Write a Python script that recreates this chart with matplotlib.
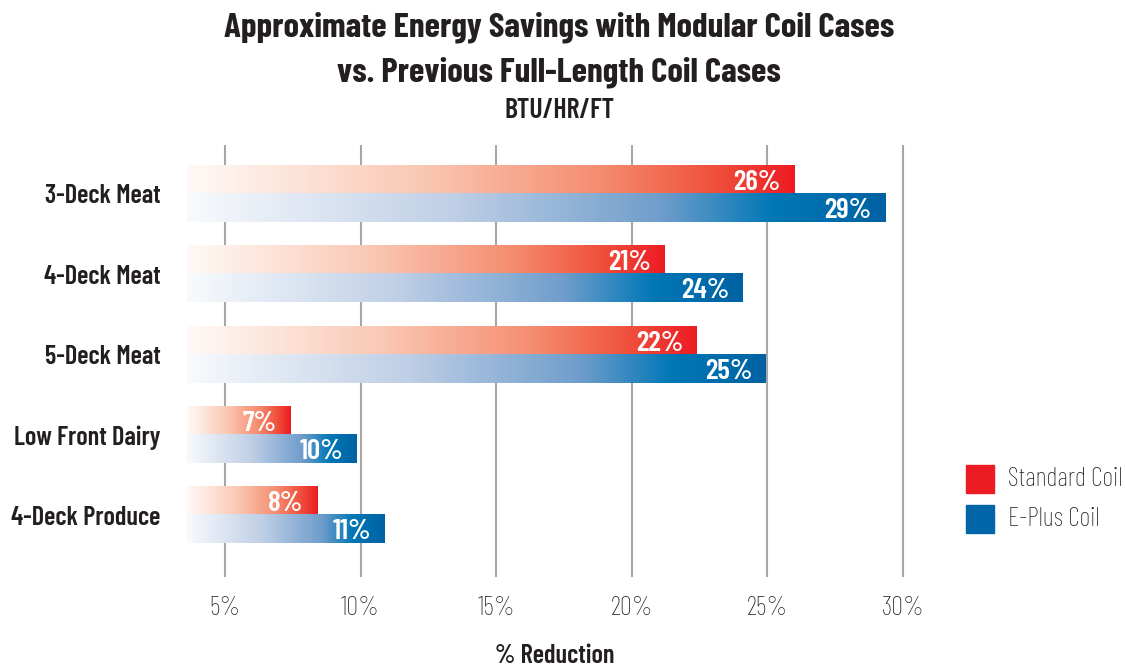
import matplotlib
matplotlib.use('Agg')
import matplotlib.pyplot as plt
import numpy as np
from matplotlib.colors import LinearSegmentedColormap
from matplotlib.patches import Rectangle

FONT = ['Barlow Condensed', 'DejaVu Sans']

# data
categories = ['3-Deck Meat', '4-Deck Meat', '5-Deck Meat', 'Low Front Dairy', '4-Deck Produce']
standard = [26.0, 21.2, 22.4, 7.4, 8.4]
eplus = [29.35, 24.1, 24.95, 9.85, 10.9]
standard_labels = ['26%', '21%', '22%', '7%', '8%']
eplus_labels = ['29%', '24%', '25%', '10%', '11%']
ticks = [5, 10, 15, 20, 25, 30]
tick_labels = ['5%', '10%', '15%', '20%', '25%', '30%']

RED = '#ED1C24'
BLUE = '#0066A8'
TEXT = '#231F20'
red_cmap = LinearSegmentedColormap.from_list('red', [
    (0.0, '#FFFAF7'), (0.38, '#FAC9B5'), (0.68, '#F58D70'),
    (0.86, '#F0533E'), (1.0, '#ED1C24')])
blue_cmap = LinearSegmentedColormap.from_list('blue', [
    (0.0, '#F8FAFD'), (0.38, '#BFCFE6'), (0.68, '#6F9DCB'),
    (0.84, '#0077B6'), (1.0, '#0062A2')])

XMIN, XMAX = 3.6, 30.3
H = 0.35

fig = plt.figure(figsize=(11.25, 6.66), dpi=100)
ax = fig.add_axes([187 / 1125, 1 - 577 / 666, (911 - 187) / 1125, (577 - 145) / 666])

grad = np.linspace(0, 1, 256)[np.newaxis, :]


def gradient_bar(y0, y1, x1, cmap):
    ax.imshow(grad, extent=[XMIN, x1, y1, y0], cmap=cmap, aspect='auto',
              interpolation='bilinear', zorder=2)


for i, cat in enumerate(categories):
    gradient_bar(i - H, i, standard[i], red_cmap)
    gradient_bar(i, i + H, eplus[i], blue_cmap)
    ax.text(standard[i] - 0.5, i - H / 2, standard_labels[i], ha='right', va='center_baseline',
            color='white', fontsize=21, fontweight='semibold', family=FONT, zorder=3)
    ax.text(eplus[i] - 0.5, i + H / 2, eplus_labels[i], ha='right', va='center_baseline',
            color='white', fontsize=21, fontweight='semibold', family=FONT, zorder=3)

ax.set_xlim(XMIN, XMAX)
ax.set_ylim(4.77, -0.61)

for t in ticks:
    ax.axvline(t, color='#A7A7A9', lw=1.5, zorder=1)

ax.set_xticks(ticks)
ax.set_xticklabels(tick_labels, family=FONT, fontsize=19, fontweight='light', color=TEXT)
ax.set_yticks(range(len(categories)))
ax.set_yticklabels(categories, family=FONT, fontsize=19, fontweight='semibold', color=TEXT)
ax.tick_params(axis='both', length=0)
ax.tick_params(axis='x', pad=14)
ax.tick_params(axis='y', pad=19)
for s in ax.spines.values():
    s.set_visible(False)

ax.set_xlabel('% Reduction', family=FONT, fontsize=19, fontweight='semibold', color=TEXT)
ax.xaxis.set_label_coords((555 - 187) / (911 - 187), -0.155)

fig.text(0.497, 1 - 27 / 666, 'Approximate Energy Savings with Modular Coil Cases', ha='center',
         va='center', family=FONT, fontsize=25.2, fontweight='bold', color=TEXT)
fig.text(0.497, 1 - 72 / 666, 'vs. Previous Full-Length Coil Cases', ha='center',
         va='center', family=FONT, fontsize=25.2, fontweight='bold', color=TEXT)
fig.text(0.497, 1 - 110 / 666, 'BTU/HR/FT', ha='center',
         va='center', family=FONT, fontsize=20, fontweight='semibold', color=TEXT)

# legend
for yc, col, lab in [(479, RED, 'Standard Coil'), (519, BLUE, 'E-Plus Coil')]:
    fig.patches.append(Rectangle((966 / 1125, 1 - (yc + 14) / 666), 28 / 1125, 28 / 666,
                                 transform=fig.transFigure, color=col))
    fig.text(1008 / 1125, 1 - yc / 666, lab, ha='left', va='center', family=FONT,
             fontsize=19, fontweight='light', color=TEXT)

fig.savefig('out.png', dpi=100)
